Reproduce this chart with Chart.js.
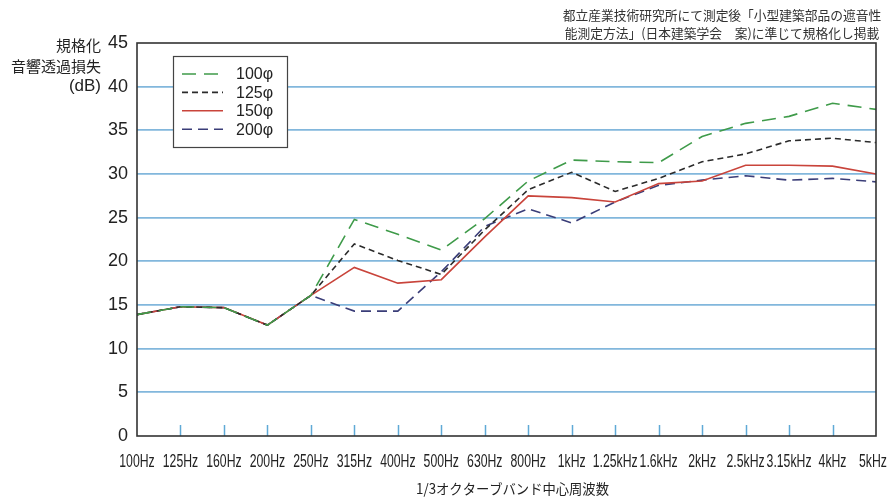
<!DOCTYPE html>
<html>
<head>
<meta charset="utf-8">
<script src="https://cdn.jsdelivr.net/npm/chart.js@4.4.1/dist/chart.umd.min.js"></script>
<style>
  html, body { margin: 0; padding: 0; background: #fff; }
  #wrap { width: 889px; height: 497px; }
</style>
</head>
<body>
<div id="wrap"><canvas id="c" width="889" height="497"></canvas></div>
<script>
// 1/3オクターブバンド中心周波数
const bands = ["100Hz", "125Hz", "160Hz", "200Hz", "250Hz", "315Hz", "400Hz", "500Hz", "630Hz",
  "800Hz", "1kHz", "1.25kHz", "1.6kHz", "2kHz", "2.5kHz", "3.15kHz", "4kHz", "5kHz"];

// 規格化音響透過損失 (dB)
const phi100 = [13.9, 14.8, 14.7, 12.7, 16.1, 24.8, 23.1, 21.3, 24.9, 29.2, 31.6, 31.4, 31.3, 34.3, 35.8, 36.6, 38.1, 37.4];
const phi125 = [13.9, 14.8, 14.7, 12.7, 16.1, 22.0, 20.1, 18.5, 23.6, 28.2, 30.2, 28.0, 29.5, 31.4, 32.3, 33.8, 34.1, 33.6];
const phi150 = [13.9, 14.8, 14.7, 12.7, 16.1, 19.3, 17.5, 17.9, 22.8, 27.5, 27.3, 26.8, 28.9, 29.2, 31.0, 31.0, 30.9, 30.0];
const phi200 = [13.9, 14.8, 14.7, 12.7, 16.1, 14.3, 14.3, 18.8, 24.0, 26.0, 24.4, 26.8, 28.7, 29.3, 29.8, 29.3, 29.5, 29.1];

const seriesNames = ["100φ", "125φ", "150φ", "200φ"];
const yTicks = [0, 5, 10, 15, 20, 25, 30, 35, 40, 45];

const noteLines = [
  "都立産業技術研究所にて測定後「小型建築部品の遮音性",
  "能測定方法」(日本建築学会　案)に準じて規格化し掲載"
];
const yTitle = ["規格化", "音響透過損失", "(dB)"];
const xTitle = "1/3オクターブバンド中心周波数";

const jp = '"Noto Sans CJK JP", "Noto Sans", sans-serif';
const num = '"Liberation Sans", Arial, sans-serif';

// 細長い文字（横方向に縮める）
function narrowText(ctx, text, x, y, sx) {
  ctx.save();
  ctx.translate(x, y);
  ctx.scale(sx, 1);
  ctx.fillText(text, 0, 0);
  ctx.restore();
}

// 枠・目盛り・凡例・注記
const decorPlugin = {
  id: "decor",
  beforeDatasetsDraw(chart) {
    const { ctx, chartArea: a, scales: { x } } = chart;
    ctx.save();
    ctx.strokeStyle = "#5fa9d6";
    ctx.lineWidth = 1.5;
    for (let i = 1; i < bands.length - 1; i++) {
      const px = Math.round(x.getPixelForValue(i)) + 0.5;
      ctx.beginPath();
      ctx.moveTo(px, a.bottom);
      ctx.lineTo(px, a.bottom - 11);
      ctx.stroke();
    }
    ctx.restore();
  },
  afterDraw(chart) {
    const { ctx, chartArea: a, scales: { x } } = chart;
    ctx.save();
    // frame
    ctx.strokeStyle = "#333";
    ctx.lineWidth = 1.6;
    ctx.strokeRect(a.left, a.top, a.right - a.left, a.bottom - a.top);

    // x labels
    ctx.fillStyle = "#222";
    ctx.textAlign = "center";
    ctx.textBaseline = "middle";
    ctx.font = "18px " + num;
    bands.forEach((b, i) => {
      let px = x.getPixelForValue(i);
      if (i === bands.length - 1) px -= 3;
      narrowText(ctx, b, px, 462, 0.68);
    });
    ctx.font = "14px " + jp;
    narrowText(ctx, xTitle, (a.left + a.right) / 2 + 6, 489, 0.95);

    // legend
    const lx = 173, ly = 56, lw = 114, lh = 91;
    ctx.fillStyle = "#fff";
    ctx.fillRect(lx, ly, lw, lh);
    ctx.strokeStyle = "#444";
    ctx.lineWidth = 1.2;
    ctx.strokeRect(lx + 0.5, ly + 0.5, lw, lh);
    chart.data.datasets.forEach((ds, i) => {
      const ry = 74 + i * 18.4;
      ctx.strokeStyle = ds.borderColor;
      ctx.lineWidth = 1.6;
      ctx.setLineDash(ds.borderDash || []);
      ctx.beginPath();
      ctx.moveTo(182, ry);
      ctx.lineTo(223, ry);
      ctx.stroke();
      ctx.setLineDash([]);
      ctx.fillStyle = "#222";
      ctx.font = "16px " + num;
      ctx.textAlign = "left";
      ctx.textBaseline = "middle";
      ctx.fillText(ds.label, 236, ry + 1);
    });

    // y-axis title
    ctx.fillStyle = "#222";
    ctx.textAlign = "right";
    ctx.textBaseline = "middle";
    ctx.font = "15px " + jp;
    ctx.fillText(yTitle[0], 101, 45);
    ctx.fillText(yTitle[1], 101, 66);
    ctx.font = "17px " + num;
    ctx.fillText(yTitle[2], 101, 86);

    // note (top right)
    ctx.font = "13px " + jp;
    ctx.fillStyle = "#333";
    ctx.textAlign = "center";
    narrowText(ctx, noteLines[0], 722, 15, 0.98);
    narrowText(ctx, noteLines[1], 722, 33, 0.98);
    ctx.restore();
  }
};

const ctx = document.getElementById("c").getContext("2d");
new Chart(ctx, {
  type: "line",
  data: {
    labels: bands,
    datasets: [
      { label: seriesNames[0], data: phi100, borderColor: "#3f9b4a", borderDash: [14, 8], borderWidth: 1.6 },
      { label: seriesNames[1], data: phi125, borderColor: "#2b2b2b", borderDash: [6, 4], borderWidth: 1.6 },
      { label: seriesNames[2], data: phi150, borderColor: "#c9443b", borderDash: [], borderWidth: 1.6 },
      { label: seriesNames[3], data: phi200, borderColor: "#3a3d78", borderDash: [10, 6], borderWidth: 1.6 }
    ].map(d => ({ ...d, pointRadius: 0, fill: false, tension: 0 }))
  },
  options: {
    responsive: false,
    animation: false,
    layout: { padding: { top: 43, right: 13, left: 0, bottom: 0 } },
    plugins: {
      legend: { display: false },
      tooltip: { enabled: false }
    },
    scales: {
      x: {
        type: "category",
        offset: false,
        grid: { display: false, drawTicks: false },
        border: { display: false },
        ticks: { display: false },
        afterFit(scale) { scale.height = 61; }
      },
      y: {
        min: 0, max: 45,
        afterBuildTicks(scale) { scale.ticks = yTicks.map(v => ({ value: v })); },
        grid: {
          drawTicks: false,
          lineWidth: 1.8,
          color: c => (c.tick && (c.tick.value === 0 || c.tick.value === 45)) ? "rgba(0,0,0,0)" : "#82b7dc"
        },
        border: { display: false },
        ticks: { padding: 9, color: "#222", font: { family: num, size: 18 } },
        afterFit(scale) { scale.width = 137; }
      }
    }
  },
  plugins: [decorPlugin]
});
</script>
</body>
</html>
